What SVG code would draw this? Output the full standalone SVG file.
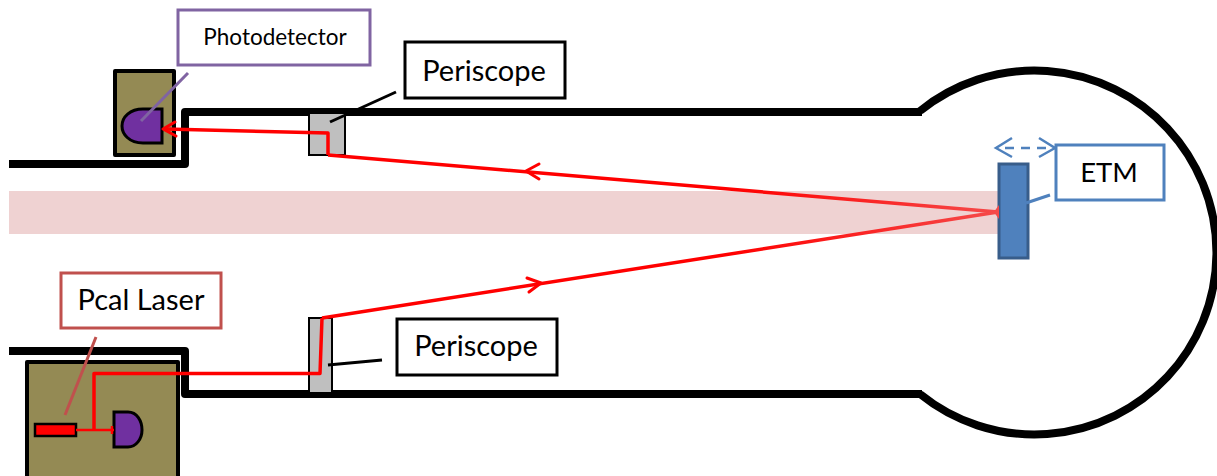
<svg xmlns="http://www.w3.org/2000/svg" width="1217" height="476" viewBox="0 0 1217 476">
<defs>
<linearGradient id="fade" gradientUnits="userSpaceOnUse" x1="322" y1="0" x2="998" y2="0">
<stop offset="0.6" stop-color="#ff0000"/>
<stop offset="1" stop-color="#f54a4a"/>
</linearGradient>
</defs>
<style>
.wall{fill:none;stroke:#000;stroke-width:8;stroke-linejoin:round}
.box{fill:#948a54;stroke:#000;stroke-width:4;stroke-linejoin:round}
.pd{fill:#7030a0;stroke:#000;stroke-width:3}
.peri{fill:#bfbfbf;stroke:#000;stroke-width:2}
.beam{fill:none;stroke:#ff0000;stroke-width:3.5;stroke-linejoin:round}
.head{fill:none;stroke:#ff0000;stroke-width:3;stroke-linecap:round}
.label{fill:#fff;stroke-width:3}
text{font-family:"Lato","Open Sans","Liberation Sans",sans-serif;fill:#000;text-anchor:middle}
</style>
<rect id="cavity-beam" x="9" y="191" width="989" height="43" fill="#efd2d2"/>
<g id="walls">
<path class="wall" d="M9 164H185V112H922"/>
<path class="wall" d="M9 351H185V394H922"/>
<path class="wall" d="M920 111A182 182 0 1 1 920 394"/>
</g>
<g id="pd-enclosure"><rect class="box" x="115" y="71" width="59" height="84"/></g>
<g id="pd-top"><path class="pd" d="M162 109V143H143C129 143 122 134 122 126C122 117 130 109 143 109Z"/></g>
<g id="pcal-enclosure"><rect class="box" x="27" y="362" width="151" height="118"/></g>
<g id="pcal-pd"><path class="pd" d="M114 412H128C137 412 142 421 142 430C142 439 136 447 128 447H114Z"/></g>
<g id="pcal-laser"><rect x="35" y="424" width="41" height="12" fill="#ff0000" stroke="#000" stroke-width="2.5"/></g>
<g id="periscope-top"><rect class="peri" x="309" y="113" width="36" height="42"/></g>
<g id="periscope-bottom"><rect class="peri" x="309" y="318" width="23" height="75"/></g>
<g id="etm"><rect x="999" y="164" width="29" height="94" fill="#4f81bd" stroke="#385d8a" stroke-width="3"/></g>
<g id="connectors">
<path class="beam" style="stroke-width:2.500" d="M76 430H114"/>
<path class="beam" d="M94 430V373.500H320L322 318"/>
<path class="beam" style="stroke:url(#fade)" d="M322 318L998 212"/>
<path class="beam" style="stroke:url(#fade)" d="M998 212L328 155"/>
<path class="beam" d="M328 155V133L165 129"/>
<path class="head" d="M163 129L175 122M163 129L176 136"/>
<path class="head" d="M541 283L527 278M541 283L529 292"/>
<path class="head" d="M526 171L539 164M526 171L539 179"/>
<path d="M995 212L998 208V216Z" fill="#f54a4a" stroke="#f54a4a" stroke-width="2"/>
<path d="M112 426V434" stroke="#ff0000" stroke-width="2.500"/>
<path d="M330 122L396 92" stroke="#000" stroke-width="3" fill="none"/>
<path d="M328 365L382 360" stroke="#000" stroke-width="3" fill="none"/>
<path d="M141 121L188 73" stroke="#8064a2" stroke-width="3" fill="none"/>
<path d="M65 415L96 337" stroke="#c0504d" stroke-width="3" fill="none"/>
<path d="M1026 203L1050 195" stroke="#4f81bd" stroke-width="3" fill="none"/>
<path d="M997 148H1055" stroke="#4f81bd" stroke-width="2.500" fill="none" stroke-dasharray="9 7" stroke-dashoffset="-8"/>
<path d="M1012 138L996 148L1012 157M1039 138L1055 148L1039 157" stroke="#4f81bd" stroke-width="2.500" fill="none"/>
</g>
<g id="label-photodetector"><rect class="label" x="178" y="10" width="192" height="55" stroke="#8064a2"/><text x="275" y="45" font-size="22.500">Photodetector</text></g>
<g id="label-periscope-top"><rect class="label" x="405" y="42" width="160" height="56" stroke="#000"/><text x="484" y="81" font-size="29">Periscope</text></g>
<g id="label-periscope-bottom"><rect class="label" x="397" y="319" width="160" height="56" stroke="#000"/><text x="476" y="356" font-size="29">Periscope</text></g>
<g id="label-pcal"><rect class="label" x="61" y="273" width="160" height="55" stroke="#c0504d"/><text x="141" y="310" font-size="29">Pcal Laser</text></g>
<g id="label-etm"><rect class="label" x="1056" y="145" width="108" height="55" stroke="#4f81bd"/><text x="1109" y="182" font-size="27.500">ETM</text></g>
</svg>
